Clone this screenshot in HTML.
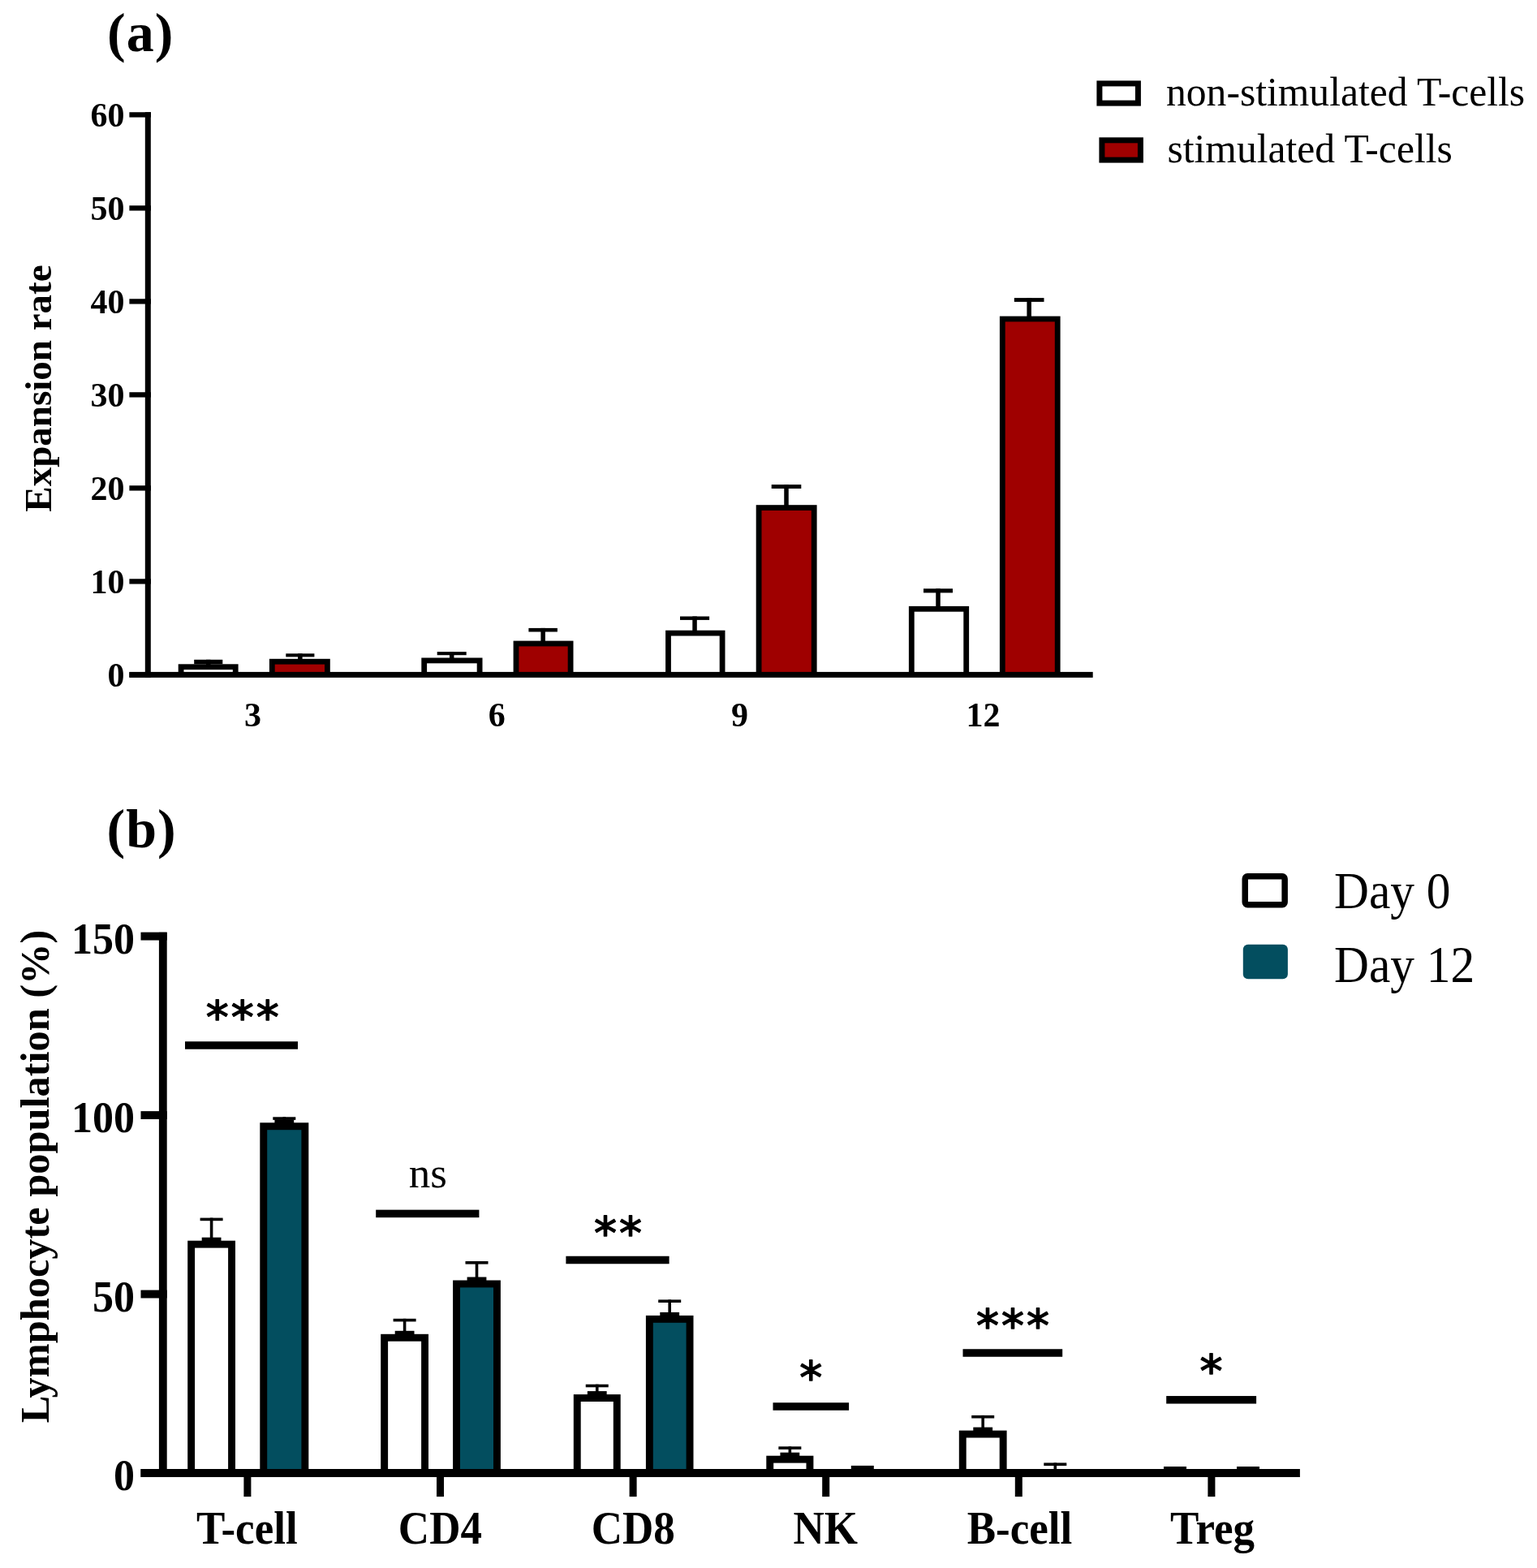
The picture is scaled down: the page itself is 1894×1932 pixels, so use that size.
<!DOCTYPE html>
<html><head><meta charset="utf-8"><title>Figure</title>
<style>
html,body{margin:0;padding:0;background:#fff;}
svg{display:block;}
</style></head><body>
<svg width="1894" height="1932" viewBox="0 0 1894 1932">
<rect x="0" y="0" width="1894" height="1932" fill="#fff"/>
<rect x="159.40" y="828.25" width="26.60" height="6.30" fill="#000"/>
<text x="153.50" y="846.40" font-size="42" font-weight="bold" text-anchor="end" font-family='"Liberation Serif", serif'>0</text>
<rect x="159.40" y="713.25" width="26.60" height="6.30" fill="#000"/>
<text x="153.50" y="731.40" font-size="42" font-weight="bold" text-anchor="end" font-family='"Liberation Serif", serif'>10</text>
<rect x="159.40" y="598.25" width="26.60" height="6.30" fill="#000"/>
<text x="153.50" y="616.40" font-size="42" font-weight="bold" text-anchor="end" font-family='"Liberation Serif", serif'>20</text>
<rect x="159.40" y="483.25" width="26.60" height="6.30" fill="#000"/>
<text x="153.50" y="501.40" font-size="42" font-weight="bold" text-anchor="end" font-family='"Liberation Serif", serif'>30</text>
<rect x="159.40" y="368.25" width="26.60" height="6.30" fill="#000"/>
<text x="153.50" y="386.40" font-size="42" font-weight="bold" text-anchor="end" font-family='"Liberation Serif", serif'>40</text>
<rect x="159.40" y="253.25" width="26.60" height="6.30" fill="#000"/>
<text x="153.50" y="271.40" font-size="42" font-weight="bold" text-anchor="end" font-family='"Liberation Serif", serif'>50</text>
<rect x="159.40" y="138.25" width="26.60" height="6.30" fill="#000"/>
<text x="153.50" y="156.40" font-size="42" font-weight="bold" text-anchor="end" font-family='"Liberation Serif", serif'>60</text>
<rect x="219.70" y="818.30" width="73.90" height="13.10" fill="#000"/>
<rect x="226.50" y="825.10" width="60.30" height="6.30" fill="#fff"/>
<rect x="254.00" y="812.80" width="5.50" height="6.50" fill="#000"/>
<rect x="239.20" y="812.80" width="35.10" height="5.50" fill="#000"/>
<rect x="331.90" y="811.80" width="74.90" height="19.60" fill="#000"/>
<rect x="338.70" y="818.60" width="61.30" height="12.80" fill="#9f0000"/>
<rect x="367.10" y="805.30" width="5.50" height="7.50" fill="#000"/>
<rect x="352.30" y="805.30" width="35.10" height="4.10" fill="#000"/>
<rect x="519.30" y="810.50" width="75.20" height="20.90" fill="#000"/>
<rect x="526.10" y="817.30" width="61.60" height="14.10" fill="#fff"/>
<rect x="553.95" y="803.10" width="5.50" height="8.40" fill="#000"/>
<rect x="538.70" y="803.10" width="36.00" height="4.10" fill="#000"/>
<rect x="632.60" y="789.60" width="73.90" height="41.80" fill="#000"/>
<rect x="639.40" y="796.40" width="60.30" height="35.00" fill="#9f0000"/>
<rect x="666.40" y="773.90" width="5.50" height="16.70" fill="#000"/>
<rect x="651.40" y="773.90" width="35.50" height="4.60" fill="#000"/>
<rect x="820.10" y="776.70" width="73.40" height="54.70" fill="#000"/>
<rect x="826.90" y="783.50" width="59.80" height="47.90" fill="#fff"/>
<rect x="853.30" y="759.50" width="5.50" height="18.20" fill="#000"/>
<rect x="838.00" y="759.50" width="36.10" height="4.40" fill="#000"/>
<rect x="931.70" y="622.20" width="74.90" height="209.20" fill="#000"/>
<rect x="938.50" y="629.00" width="61.30" height="202.40" fill="#9f0000"/>
<rect x="966.25" y="597.10" width="5.50" height="26.10" fill="#000"/>
<rect x="950.70" y="597.10" width="36.60" height="4.90" fill="#000"/>
<rect x="1119.90" y="746.90" width="74.20" height="84.50" fill="#000"/>
<rect x="1126.70" y="753.70" width="60.60" height="77.70" fill="#fff"/>
<rect x="1153.25" y="725.30" width="5.50" height="22.60" fill="#000"/>
<rect x="1138.00" y="725.30" width="36.00" height="5.10" fill="#000"/>
<rect x="1231.90" y="389.60" width="74.70" height="441.80" fill="#000"/>
<rect x="1238.70" y="396.40" width="61.10" height="435.00" fill="#9f0000"/>
<rect x="1265.40" y="367.10" width="5.50" height="23.50" fill="#000"/>
<rect x="1249.80" y="367.10" width="36.70" height="4.80" fill="#000"/>
<rect x="178.80" y="138.20" width="7.00" height="696.70" fill="#000"/>
<rect x="159.40" y="827.90" width="1187.30" height="7.00" fill="#000"/>
<text x="311.60" y="894.50" font-size="42" font-weight="bold" text-anchor="middle" font-family='"Liberation Serif", serif'>3</text>
<text x="612.20" y="894.50" font-size="42" font-weight="bold" text-anchor="middle" font-family='"Liberation Serif", serif'>6</text>
<text x="911.50" y="894.50" font-size="42" font-weight="bold" text-anchor="middle" font-family='"Liberation Serif", serif'>9</text>
<text x="1211.40" y="894.50" font-size="42" font-weight="bold" text-anchor="middle" font-family='"Liberation Serif", serif'>12</text>
<text x="132.00" y="62.50" font-size="68" font-weight="bold" text-anchor="start" font-family='"Liberation Serif", serif' letter-spacing="1">(a)</text>
<text transform="translate(63.1,478.5) rotate(-90)" font-size="47" font-weight="bold" text-anchor="middle" font-family='"Liberation Serif", serif'>Expansion rate</text>
<rect x="1351.40" y="99.40" width="54.50" height="31.20" fill="#000"/>
<rect x="1358.40" y="106.40" width="40.50" height="17.20" fill="#fff"/>
<rect x="1354.40" y="169.30" width="54.50" height="31.30" fill="#000"/>
<rect x="1361.40" y="176.30" width="40.50" height="17.30" fill="#9f0000"/>
<text x="1437.00" y="130.00" font-size="49.6" font-weight="normal" text-anchor="start" font-family='"Liberation Serif", serif'>non-stimulated T-cells</text>
<text x="1438.50" y="199.80" font-size="49.6" font-weight="normal" text-anchor="start" font-family='"Liberation Serif", serif'>stimulated T-cells</text>
<rect x="173.50" y="1810.05" width="32.20" height="9.90" fill="#000"/>
<text transform="translate(166.00,1836.30) scale(1,1.07)" font-size="52" font-weight="bold" text-anchor="end" font-family='"Liberation Serif", serif'>0</text>
<rect x="173.50" y="1589.58" width="32.20" height="9.90" fill="#000"/>
<text transform="translate(166.00,1615.83) scale(1,1.07)" font-size="52" font-weight="bold" text-anchor="end" font-family='"Liberation Serif", serif'>50</text>
<rect x="173.50" y="1369.12" width="32.20" height="9.90" fill="#000"/>
<text transform="translate(166.00,1395.37) scale(1,1.07)" font-size="52" font-weight="bold" text-anchor="end" font-family='"Liberation Serif", serif'>100</text>
<rect x="173.50" y="1148.65" width="32.20" height="9.90" fill="#000"/>
<text transform="translate(166.00,1174.90) scale(1,1.07)" font-size="52" font-weight="bold" text-anchor="end" font-family='"Liberation Serif", serif'>150</text>
<rect x="300.40" y="1815.00" width="9.00" height="29.10" fill="#000"/>
<rect x="538.00" y="1815.00" width="9.00" height="29.10" fill="#000"/>
<rect x="775.60" y="1815.00" width="9.00" height="29.10" fill="#000"/>
<rect x="1013.20" y="1815.00" width="9.00" height="29.10" fill="#000"/>
<rect x="1250.80" y="1815.00" width="9.00" height="29.10" fill="#000"/>
<rect x="1488.40" y="1815.00" width="9.00" height="29.10" fill="#000"/>
<rect x="231.20" y="1528.70" width="58.80" height="286.30" fill="#000"/>
<rect x="240.10" y="1537.60" width="41.00" height="277.40" fill="#fff"/>
<rect x="248.70" y="1524.70" width="23.80" height="5.00" fill="#000"/>
<rect x="258.80" y="1500.60" width="3.60" height="29.10" fill="#000"/>
<rect x="246.60" y="1500.60" width="28.00" height="3.60" fill="#000"/>
<rect x="320.30" y="1383.30" width="60.00" height="431.70" fill="#000"/>
<rect x="329.20" y="1392.20" width="42.20" height="422.80" fill="#034e5f"/>
<rect x="338.40" y="1379.30" width="23.80" height="5.00" fill="#000"/>
<rect x="348.50" y="1376.30" width="3.60" height="8.00" fill="#000"/>
<rect x="336.30" y="1376.30" width="28.00" height="3.60" fill="#000"/>
<rect x="469.20" y="1643.80" width="58.80" height="171.20" fill="#000"/>
<rect x="478.10" y="1652.70" width="41.00" height="162.30" fill="#fff"/>
<rect x="486.70" y="1639.80" width="23.80" height="5.00" fill="#000"/>
<rect x="496.80" y="1624.80" width="3.60" height="20.00" fill="#000"/>
<rect x="484.60" y="1624.80" width="28.00" height="3.60" fill="#000"/>
<rect x="558.10" y="1577.50" width="58.80" height="237.50" fill="#000"/>
<rect x="567.00" y="1586.40" width="41.00" height="228.60" fill="#034e5f"/>
<rect x="575.60" y="1573.50" width="23.80" height="5.00" fill="#000"/>
<rect x="585.70" y="1554.00" width="3.60" height="24.50" fill="#000"/>
<rect x="573.50" y="1554.00" width="28.00" height="3.60" fill="#000"/>
<rect x="706.80" y="1718.10" width="57.90" height="96.90" fill="#000"/>
<rect x="715.70" y="1727.00" width="40.10" height="88.00" fill="#fff"/>
<rect x="723.85" y="1714.10" width="23.80" height="5.00" fill="#000"/>
<rect x="733.95" y="1705.70" width="3.60" height="13.40" fill="#000"/>
<rect x="721.75" y="1705.70" width="28.00" height="3.60" fill="#000"/>
<rect x="795.90" y="1620.90" width="58.60" height="194.10" fill="#000"/>
<rect x="804.80" y="1629.80" width="40.80" height="185.20" fill="#034e5f"/>
<rect x="813.30" y="1616.90" width="23.80" height="5.00" fill="#000"/>
<rect x="823.40" y="1601.40" width="3.60" height="20.50" fill="#000"/>
<rect x="811.20" y="1601.40" width="28.00" height="3.60" fill="#000"/>
<rect x="944.30" y="1793.70" width="58.10" height="21.30" fill="#000"/>
<rect x="953.20" y="1802.60" width="40.30" height="12.40" fill="#fff"/>
<rect x="961.45" y="1789.70" width="23.80" height="5.00" fill="#000"/>
<rect x="971.55" y="1782.30" width="3.60" height="12.40" fill="#000"/>
<rect x="959.35" y="1782.30" width="28.00" height="3.60" fill="#000"/>
<rect x="1048.80" y="1805.90" width="28.00" height="5.10" fill="#000"/>
<rect x="1181.80" y="1762.60" width="58.80" height="52.40" fill="#000"/>
<rect x="1190.70" y="1771.50" width="41.00" height="43.50" fill="#fff"/>
<rect x="1199.30" y="1758.60" width="23.80" height="5.00" fill="#000"/>
<rect x="1209.40" y="1743.90" width="3.60" height="19.70" fill="#000"/>
<rect x="1197.20" y="1743.90" width="28.00" height="3.60" fill="#000"/>
<rect x="1298.50" y="1802.40" width="3.60" height="8.60" fill="#000"/>
<rect x="1286.30" y="1802.40" width="28.00" height="3.60" fill="#000"/>
<rect x="1434.00" y="1807.00" width="28.00" height="4.00" fill="#000"/>
<rect x="1524.00" y="1807.00" width="28.00" height="4.00" fill="#000"/>
<rect x="195.90" y="1148.80" width="9.80" height="671.20" fill="#000"/>
<rect x="173.50" y="1810.00" width="1428.40" height="10.00" fill="#000"/>
<rect x="228.00" y="1283.25" width="139.00" height="9.50" fill="#000"/>
<text x="300.20" y="1273.00" font-size="56" font-weight="normal" text-anchor="middle" font-family='"DejaVu Sans", sans-serif' letter-spacing="3" stroke="#000" stroke-width="1.5" stroke-linejoin="round">***</text>
<rect x="463.20" y="1490.65" width="127.20" height="9.50" fill="#000"/>
<text x="527.30" y="1463.00" font-size="53" font-weight="normal" text-anchor="middle" font-family='"Liberation Serif", serif'>ns</text>
<rect x="697.40" y="1547.75" width="127.20" height="9.50" fill="#000"/>
<text x="763.10" y="1538.50" font-size="56" font-weight="normal" text-anchor="middle" font-family='"DejaVu Sans", sans-serif' letter-spacing="3" stroke="#000" stroke-width="1.5" stroke-linejoin="round">**</text>
<rect x="952.50" y="1728.25" width="93.60" height="9.50" fill="#000"/>
<text x="1000.70" y="1717.00" font-size="56" font-weight="normal" text-anchor="middle" font-family='"DejaVu Sans", sans-serif' letter-spacing="3" stroke="#000" stroke-width="1.5" stroke-linejoin="round">*</text>
<rect x="1186.50" y="1662.25" width="122.70" height="9.50" fill="#000"/>
<text x="1249.50" y="1652.50" font-size="56" font-weight="normal" text-anchor="middle" font-family='"DejaVu Sans", sans-serif' letter-spacing="3" stroke="#000" stroke-width="1.5" stroke-linejoin="round">***</text>
<rect x="1437.20" y="1720.05" width="110.90" height="9.50" fill="#000"/>
<text x="1494.10" y="1709.00" font-size="56" font-weight="normal" text-anchor="middle" font-family='"DejaVu Sans", sans-serif' letter-spacing="3" stroke="#000" stroke-width="1.5" stroke-linejoin="round">*</text>
<text transform="translate(304.30,1902.20) scale(1,1.06)" font-size="53" font-weight="bold" text-anchor="middle" font-family='"Liberation Serif", serif'>T-cell</text>
<text transform="translate(542.40,1902.20) scale(1,1.06)" font-size="53" font-weight="bold" text-anchor="middle" font-family='"Liberation Serif", serif'>CD4</text>
<text transform="translate(780.30,1902.20) scale(1,1.06)" font-size="53" font-weight="bold" text-anchor="middle" font-family='"Liberation Serif", serif'>CD8</text>
<text transform="translate(1017.30,1902.20) scale(1,1.06)" font-size="53" font-weight="bold" text-anchor="middle" font-family='"Liberation Serif", serif'>NK</text>
<text transform="translate(1256.50,1902.20) scale(1,1.06)" font-size="53" font-weight="bold" text-anchor="middle" font-family='"Liberation Serif", serif'>B-cell</text>
<text transform="translate(1494.00,1902.20) scale(1,1.06)" font-size="53" font-weight="bold" text-anchor="middle" font-family='"Liberation Serif", serif'>Treg</text>
<text x="131.50" y="1043.50" font-size="68" font-weight="bold" text-anchor="start" font-family='"Liberation Serif", serif' letter-spacing="1">(b)</text>
<text transform="translate(59.5,1449.5) rotate(-90)" font-size="50.4" font-weight="bold" text-anchor="middle" font-family='"Liberation Serif", serif'>Lymphocyte population (%)</text>
<rect x="1534.25" y="1079.65" width="48.9" height="35" rx="3" fill="#fff" stroke="#000" stroke-width="7.5"/>
<rect x="1531.8" y="1163.7" width="55.1" height="42.5" rx="6" fill="#034e5f"/>
<text transform="translate(1644.00,1118.60) scale(1,1.07)" font-size="59.4" font-weight="normal" text-anchor="start" font-family='"Liberation Serif", serif'>Day 0</text>
<text transform="translate(1644.00,1209.50) scale(1,1.05)" font-size="59.4" font-weight="normal" text-anchor="start" font-family='"Liberation Serif", serif'>Day 12</text>
</svg>
</body></html>
